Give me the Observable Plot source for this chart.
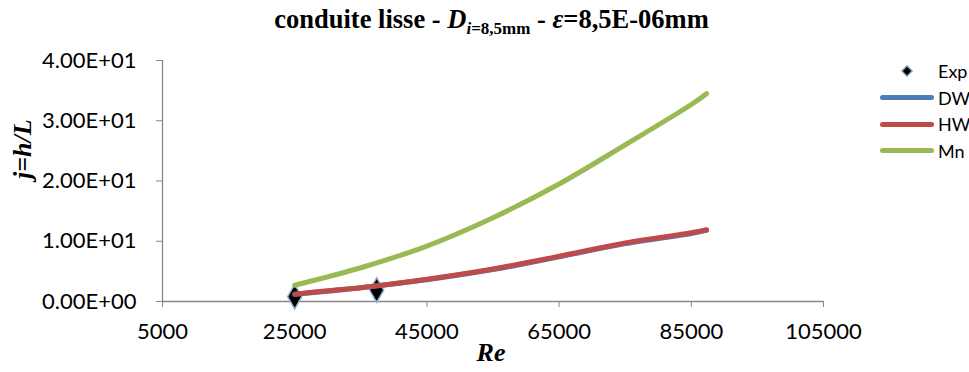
<!DOCTYPE html>
<html>
<head>
<meta charset="utf-8">
<script src="https://cdn.jsdelivr.net/npm/d3@7"></script>
<script src="https://cdn.jsdelivr.net/npm/@observablehq/plot@0.6"></script>
<style>
  html, body { margin: 0; padding: 0; background: #fff; }
  #wrap { position: relative; width: 969px; height: 372px; overflow: hidden; }
  #title { position: absolute; left: 0; width: 983px; top: 4px; text-align: center; white-space: nowrap;
    font-family: "Liberation Serif", serif; font-weight: bold; font-size: 26.5px; color: #000; }
  #title sub { font-size: 17px; vertical-align: -6px; line-height: 0; }
  #legend { position: absolute; left: 878px; top: 58px; font-family: Lato, sans-serif; font-size: 18px; color: #000; white-space: nowrap; }
  .lrow { height: 26.5px; display: flex; align-items: center; }
  .lkey { width: 60px; height: 26px; position: relative; flex: none; }
  .lline { position: absolute; left: 2px; width: 54px; top: 10.5px; height: 5px; border-radius: 3px; }
  .lmark { position: absolute; left: 25px; top: 9px; width: 6px; height: 6px; background: #000; border: 1.3px solid #95b3d7; transform: rotate(45deg); }
</style>
</head>
<body>
<div id="wrap">
  <div id="chart"></div>
  <div id="title">conduite lisse - <i>D</i><sub><i>i</i>=8,5mm</sub> - <i>ε</i>=8,5E-06mm</div>
  <div id="legend"></div>
</div>
<script>
// Experimental points
const expRe = [25000, 37400];
const expJ = [0.8, 1.9];

// Model curves
const curveRe = [25000, 30000, 35000, 45000, 55000, 65000, 75000, 85000, 87300];
const dwJ = [1.2, 1.7, 2.3, 3.6, 5.3, 7.4, 9.6, 11.3, 11.8];
const hwJ = [1.2, 1.8, 2.3, 3.7, 5.4, 7.5, 9.7, 11.4, 11.9];
const mnJ = [2.7, 4.1, 5.6, 9.2, 13.9, 19.5, 26.0, 32.7, 34.5];

const seriesNames = ["Exp", "DW", "HW", "Mn"];
const seriesColors = ["#000000", "#4a7ebb", "#be4b48", "#98b954"];

const xTicks = [5000, 25000, 45000, 65000, 85000, 105000];
const yTicks = [0, 10, 20, 30, 40];

const fmtE = v => {
  const s = v.toExponential(2).toUpperCase();
  return s.replace(/E([+-])(\d)$/, "E$10$2");
};

const expData = expRe.map((x, i) => ({x, y: expJ[i]}));
const mk = (arr) => curveRe.map((x, i) => ({x, y: arr[i]}));

const chart = Plot.plot({
  width: 969,
  height: 372,
  marginLeft: 162,
  marginRight: 146,
  marginTop: 60,
  marginBottom: 71,
  style: {fontFamily: "Lato, sans-serif", fontSize: "22px", color: "#000", background: "#fff"},
  x: {domain: [5000, 105000]},
  y: {domain: [0, 40]},
  marks: [
    Plot.ruleX([5000], {stroke: "#868686", strokeWidth: 1.3}),
    Plot.ruleY([0], {stroke: "#868686", strokeWidth: 1.3}),
    Plot.axisX({ticks: xTicks, tickSize: 6, tickPadding: 16, stroke: "#868686", tickFormat: d => String(d), label: null, fill: "#000", fontSize: 22}),
    Plot.axisY({ticks: yTicks, tickSize: 6, tickPadding: 20, stroke: "#868686", tickFormat: fmtE, label: null, fill: "#000", fontSize: 22}),
    Plot.dot(expData, {x: "x", y: "y", symbol: "diamond", r: 7.5, fill: "#000", stroke: "#95b3d7", strokeWidth: 1.5}),
    Plot.line(mk(dwJ), {x: "x", y: "y", stroke: seriesColors[1], strokeWidth: 5, curve: "catmull-rom", strokeLinecap: "round"}),
    Plot.line(mk(hwJ), {x: "x", y: "y", stroke: seriesColors[2], strokeWidth: 5, curve: "catmull-rom", strokeLinecap: "round"}),
    Plot.line(mk(mnJ), {x: "x", y: "y", stroke: seriesColors[3], strokeWidth: 5, curve: "catmull-rom", strokeLinecap: "round"}),
    Plot.text(["Re"], {frameAnchor: "bottom", dy: 59, dx: -2, fontFamily: "Liberation Serif, serif", fontWeight: "bold", fontStyle: "italic", fontSize: 26}),
    Plot.text(["j=h/L"], {frameAnchor: "left", dx: -140, dy: -2, rotate: -90, fontFamily: "Liberation Serif, serif", fontWeight: "bold", fontStyle: "italic", fontSize: 26})
  ]
});
document.getElementById("chart").appendChild(chart);

const legend = document.getElementById("legend");
seriesNames.forEach((name, i) => {
  const row = document.createElement("div");
  row.className = "lrow";
  const key = document.createElement("div");
  key.className = "lkey";
  if (i === 0) {
    const m = document.createElement("div");
    m.className = "lmark";
    key.appendChild(m);
  } else {
    const l = document.createElement("div");
    l.className = "lline";
    l.style.background = seriesColors[i];
    key.appendChild(l);
  }
  const t = document.createElement("span");
  t.textContent = name;
  row.appendChild(key);
  row.appendChild(t);
  legend.appendChild(row);
});
</script>
</body>
</html>
